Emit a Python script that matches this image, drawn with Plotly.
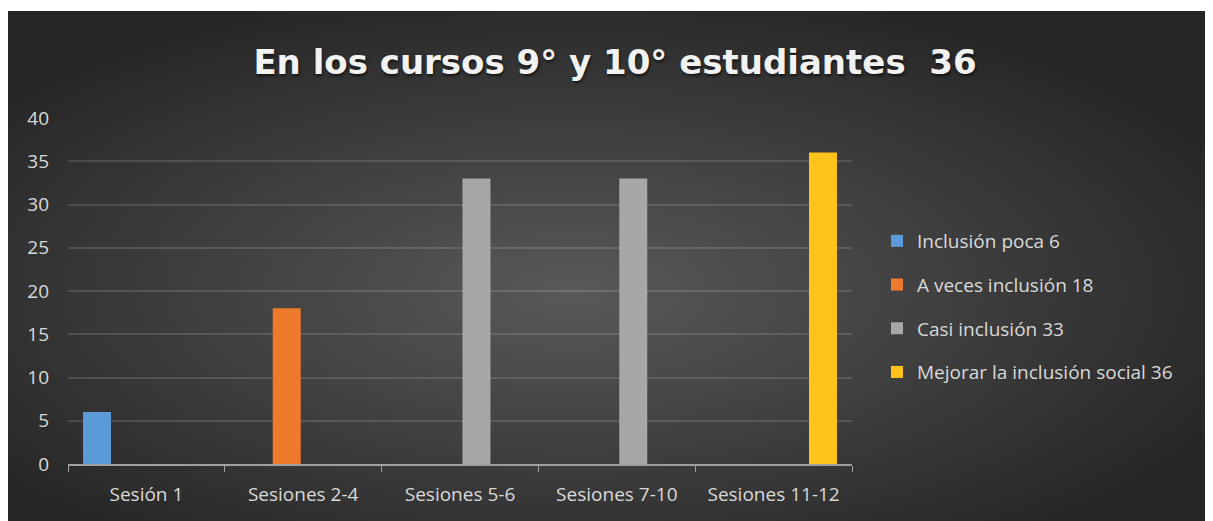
import base64
import plotly.graph_objects as go

categories = ["Sesión 1", "Sesiones 2-4", "Sesiones 5-6", "Sesiones 7-10", "Sesiones 11-12"]
series_names = ["Inclusión poca 6", "A veces inclusión 18", "Casi inclusión 33", "Mejorar la inclusión social 36"]
inclusion_poca = [6, 0, 0, 0, 0]
a_veces = [0, 18, 0, 0, 0]
casi = [0, 0, 33, 33, 0]
mejorar = [0, 0, 0, 0, 36]
colors = ["#5a9ad8", "#ee7b2c", "#a7a7a7", "#ffc31a"]
title_text = "En los cursos 9° y 10° estudiantes  36"

# page body has an 8px margin; work in figure coordinates (screen - 8)
W, H = 1205, 513
L, R, T, B = 60, 361, 110, 57
pw, ph = W - L - R, H - T - B

svg = (
    '<svg xmlns="http://www.w3.org/2000/svg" width="1203" height="510" viewBox="0 0 1203 510" preserveAspectRatio="none">'
    '<defs><radialGradient id="g" cx="47%" cy="55%" r="62%" gradientUnits="objectBoundingBox">'
    '<stop offset="0" stop-color="#595959"/><stop offset="1" stop-color="#252525"/>'
    '</radialGradient></defs><rect width="1203" height="510" fill="url(#g)"/></svg>'
)
src = "data:image/svg+xml;base64," + base64.b64encode(svg.encode()).decode()

def px_x(p):
    return (p - L) / pw

def px_y(p):
    return (H - B - p) / ph

fig = go.Figure()
for name, vals, c in zip(series_names, [inclusion_poca, a_veces, casi, mejorar], colors):
    fig.add_trace(go.Bar(x=categories, y=vals, name=name, marker=dict(color=c, line=dict(width=0)),
                         legendgroup=name))

fig.add_layout_image(dict(source=src, xref="paper", yref="paper",
                          x=px_x(0), y=px_y(3), sizex=px_x(1202) - px_x(0), sizey=px_y(3) - px_y(513),
                          xanchor="left", yanchor="top", sizing="stretch", layer="below"))

fig.update_layout(
    width=W, height=H,
    margin=dict(l=L, r=R, t=T, b=B),
    paper_bgcolor="white",
    plot_bgcolor="rgba(0,0,0,0)",
    barmode="group", bargap=0.16, bargroupgap=0.15,
    title=dict(text="<b>" + title_text + "</b>", x=607 / W, xanchor="center", y=1 - 54 / H, yanchor="middle",
               font=dict(family="DejaVu Sans", size=34, color="#f2f2f2",
                         shadow="1px 2px 3px rgba(0,0,0,0.6)")),
    font=dict(family="Open Sans", color="#d9d9d9", size=18),
    legend=dict(x=px_x(869), xanchor="left", y=px_y(214), yanchor="top", tracegroupgap=16,
                font=dict(size=19, color="#d9d9d9"), bgcolor="rgba(0,0,0,0)", itemwidth=30),
    showlegend=True,
)
fig.update_xaxes(showline=True, linecolor="#a0a0a0", linewidth=1.5, ticks="outside", tickson="boundaries",
                 ticklen=6, tickcolor="#a0a0a0", tickfont=dict(size=19, color="#d9d9d9"),
                 ticklabelstandoff=12, showgrid=False)
fig.update_yaxes(range=[0, 40], dtick=5, showgrid=True, gridcolor="rgba(255,255,255,0.13)", gridwidth=1.5,
                 zeroline=False, tickfont=dict(size=19, color="#d9d9d9"), ticklabelstandoff=18)

fig.write_html("out.html")
